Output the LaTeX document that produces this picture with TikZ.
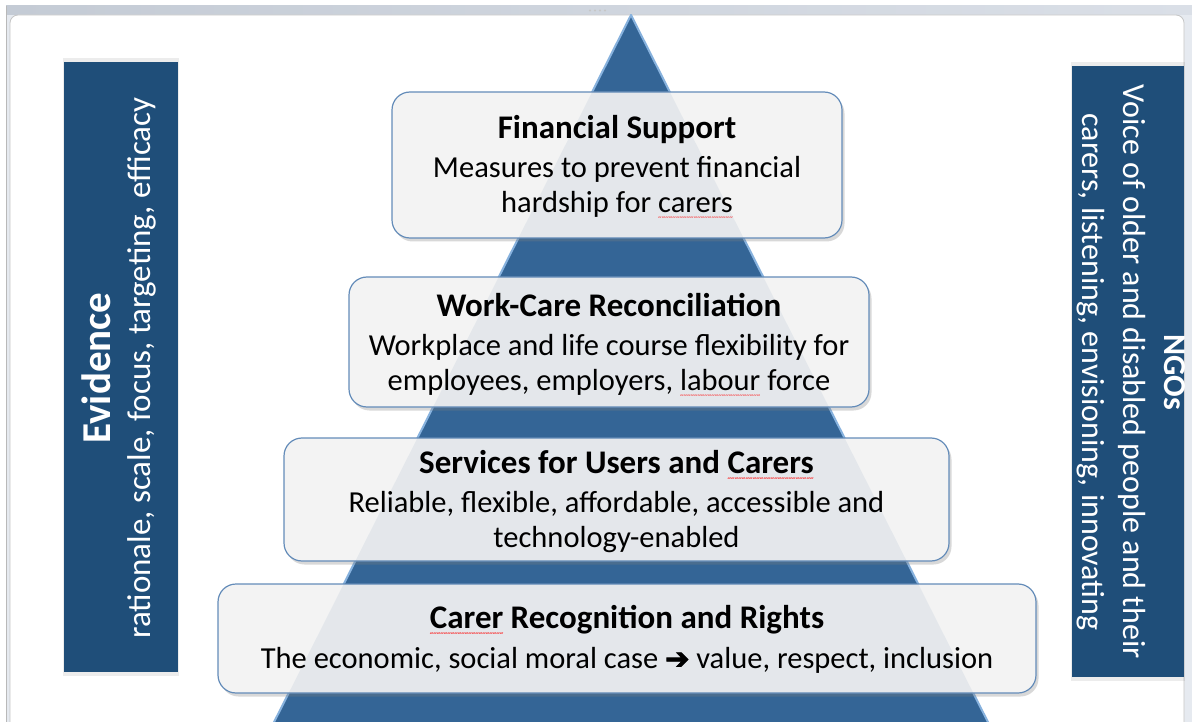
\documentclass[tikz,border=0pt]{standalone}
\usepackage{fontspec}
\setmainfont{Carlito}
\newfontfamily\dejavu{DejaVu Sans}[AutoFakeBold=2.5]
\usetikzlibrary{shadows}
\definecolor{barblue}{RGB}{31,78,121}
\definecolor{triblue}{RGB}{52,101,150}
\definecolor{triedge}{RGB}{135,178,222}
\definecolor{boxedge}{RGB}{100,140,185}
\definecolor{boxfill}{RGB}{243,243,243}
\definecolor{framebg}{RGB}{230,234,240}
\definecolor{framebar1}{RGB}{196,203,213}
\definecolor{framebar2}{RGB}{218,223,231}
\newcommand\redwave[1]{\setbox0=\hbox{#1}\rlap{\textcolor{red}{\fontsize{7}{7}\selectfont\raisebox{-7pt}[0pt][0pt]{\hbox to \wd0{\xleaders\hbox{\char"7E}\hfil}}}}\box0{}}
\newcommand\ttl{\fontsize{33}{35}\selectfont\bfseries}
\tikzset{
  box/.style={draw=boxedge, line width=1.2pt, fill=boxfill, rounded corners=18pt,
    drop shadow={shadow xshift=2.5pt, shadow yshift=-3.5pt, opacity=0.3}},
  boxtext/.style={align=center, inner sep=0pt, font=\fontsize{30.5}{35}\selectfont},
  bar/.style={fill=barblue},
  bartext/.style={align=center, inner sep=0pt, text=white},
}
\begin{document}
\begin{tikzpicture}[x=1pt,y=-1pt]
\useasboundingbox (0,0) rectangle (1192,722);
% window frame
\fill[framebg] (6,6) rectangle (1192,722);
\shade[left color=framebar1, right color=framebar2] (6,6) rectangle (1192,15);
\draw[gray!55, line width=0.8pt] (6.4,6) -- (6.4,722);
\foreach \dx in {590,595,600,605} \fill[gray!45] (\dx,10.5) circle (1.1);
\filldraw[fill=white, draw=gray!45, line width=0.8pt, rounded corners=8pt] (10,15) rectangle (1184,760);
% triangle
\coordinate (apex) at (631,15);
\coordinate (bl) at (265,740);
\coordinate (br) at (997,740);
\begin{scope}
\clip (10,15) rectangle (1184,722);
\filldraw[fill=triblue, draw=triedge, line width=2pt, line join=miter] (apex) -- (bl) -- (br) -- cycle;
\end{scope}
% side bars
\fill[bar, drop shadow={shadow xshift=0pt, shadow yshift=0pt, shadow scale=1.012, opacity=0.15}] (64,62) rectangle (178,672);
\fill[bar, drop shadow={shadow xshift=0pt, shadow yshift=0pt, shadow scale=1.012, opacity=0.15}] (1072,66) rectangle (1184,677);
\node[bartext, rotate=90, font=\fontsize{33}{40}\selectfont] (evid) at (118.5,368)
  {{\fontsize{41}{40}\selectfont\bfseries Evidence}\\rationale, scale, focus, targeting, efficacy};
\node[bartext, rotate=-90, font=\fontsize{32}{41}\selectfont] (ngos) at (1131,372)
  {{\bfseries NGOs}\\Voice of older and disabled people and their\\carers, listening, envisioning, innovating};
% boxes
\node[box, minimum width=450pt, minimum height=146pt] (b1) at (617,165) {};
\node[box, minimum width=520pt, minimum height=130pt] (b2) at (609,342) {};
\node[box, minimum width=665pt, minimum height=123pt] (b3) at (616.5,499.5) {};
\node[box, minimum width=818pt, minimum height=109pt] (b4) at (627,638.5) {};
\foreach \b in {b1,b2,b3,b4}{
  \begin{scope}
  \clip[rounded corners=18pt] (\b.north west) rectangle (\b.south east);
  \fill[triblue, opacity=0.08] (apex) -- (bl) -- (br) -- cycle;
  \end{scope}
}
\node[boxtext] (t1) at (b1.center) [yshift=-1.5pt]
  {{\ttl Financial Support}\\[4pt]Measures to prevent financial\\hardship for \redwave{carers}};
\node[boxtext] (t2) at (b2.center) [yshift=-2.5pt]
  {{\ttl Work-Care Reconciliation}\\[4pt]Workplace and life course flexibility for\\employees, employers, \redwave{labour} force};
\node[boxtext] (t3) at (b3.center) [yshift=-2.5pt]
  {{\ttl Services for Users and \redwave{Carers}}\\[4pt]Reliable, flexible, affordable, accessible and\\technology-enabled};
\node[boxtext] (t4) at (b4.center) [yshift=-1pt]
  {{\ttl \redwave{Carer} Recognition and Rights}\\[5pt]The economic, social moral case {\dejavu\bfseries\fontsize{29}{35}\selectfont ➔} value, respect, inclusion};
\end{tikzpicture}
\end{document}
